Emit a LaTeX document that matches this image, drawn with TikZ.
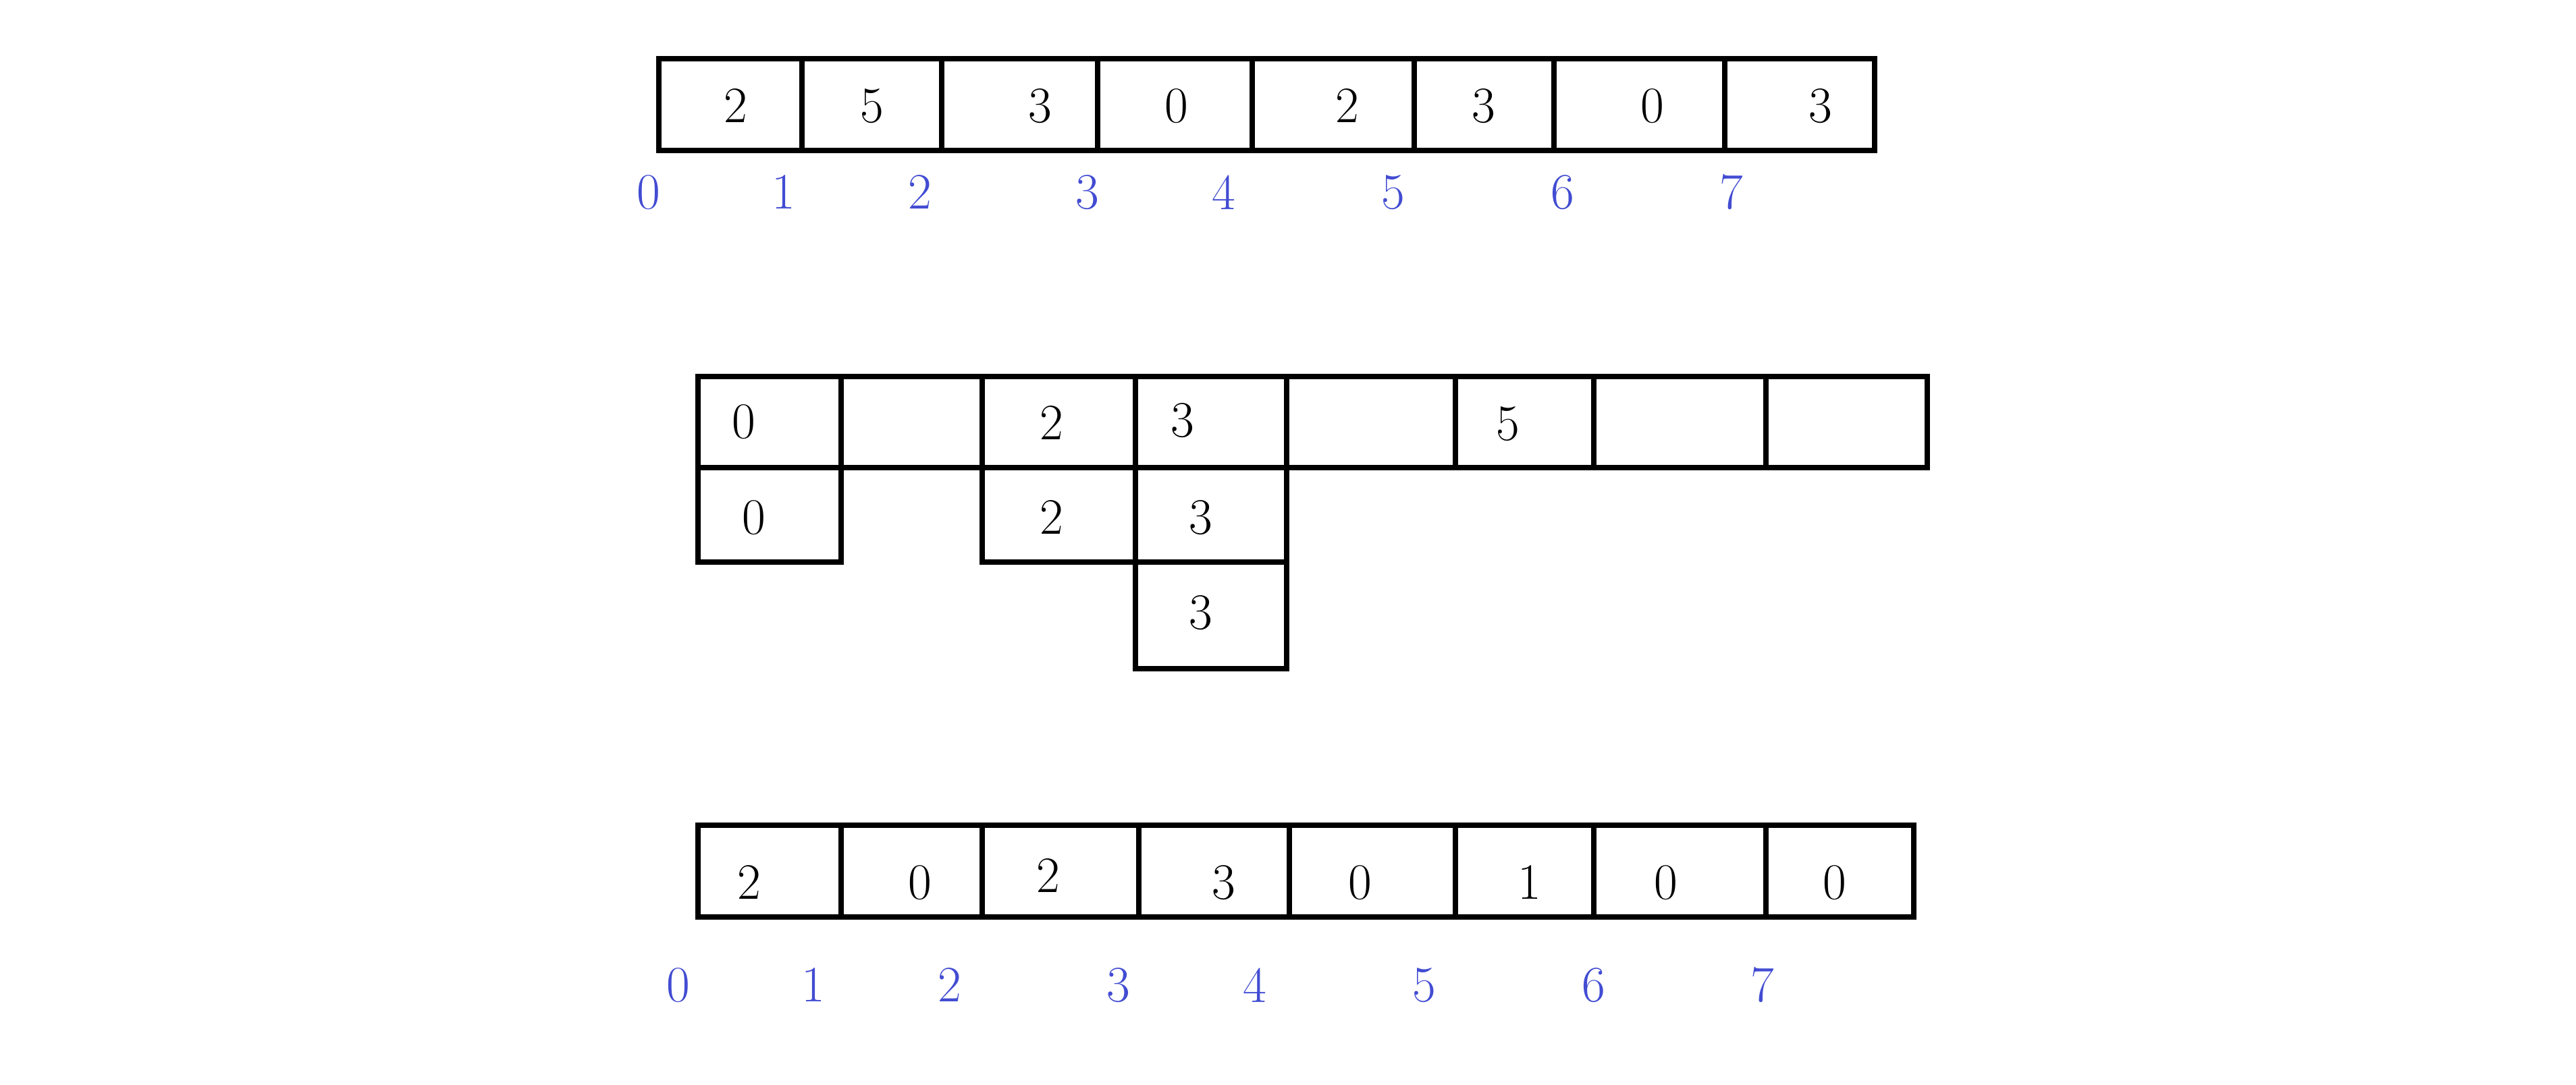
\documentclass[tikz,border=0pt]{standalone}
\usepackage{tikz}
\usetikzlibrary{positioning}
\definecolor{idxblue}{RGB}{66,76,210}

\begin{document}
\begin{tikzpicture}[x=1cm,y=-1cm]
	\tikzstyle{Cell} = [ %one box of an array
		rectangle,
		draw=black,
		line width=2.2pt,
		anchor=north west,
		inner sep=0pt,
		outer sep=0pt
	]
	\tikzstyle{Num} = [
		text=black,
		inner sep=0pt,
		font=\fontsize{21.5}{25}\selectfont
	]
	\tikzstyle{Idx} = [
		Num,
		text=idxblue
	]
	\useasboundingbox (0,0) rectangle (38.16,16.08);

	% input array
	\node (a0) [Cell, minimum width=2.12cm, minimum height=1.36cm] at (9.76,0.87) {};
	\node (a1) [Cell, minimum width=2.07cm, minimum height=1.36cm] at (11.88,0.87) {};
	\node (a2) [Cell, minimum width=2.31cm, minimum height=1.36cm] at (13.95,0.87) {};
	\node (a3) [Cell, minimum width=2.29cm, minimum height=1.36cm] at (16.26,0.87) {};
	\node (a4) [Cell, minimum width=2.40cm, minimum height=1.36cm] at (18.55,0.87) {};
	\node (a5) [Cell, minimum width=2.07cm, minimum height=1.36cm] at (20.95,0.87) {};
	\node (a6) [Cell, minimum width=2.53cm, minimum height=1.36cm] at (23.02,0.87) {};
	\node (a7) [Cell, minimum width=2.22cm, minimum height=1.36cm] at (25.55,0.87) {};
	\node (an0) [Num] at (10.90,1.57) {2};
	\node (an1) [Num] at (12.92,1.57) {5};
	\node (an2) [Num] at (15.41,1.57) {3};
	\node (an3) [Num] at (17.43,1.57) {0};
	\node (an4) [Num] at (19.96,1.57) {2};
	\node (an5) [Num] at (21.98,1.57) {3};
	\node (an6) [Num] at (24.48,1.57) {0};
	\node (an7) [Num] at (26.97,1.57) {3};
	\node (ai0) [Idx] at (9.61,2.85) {0};
	\node (ai1) [Idx] at (11.61,2.85) {1};
	\node (ai2) [Idx] at (13.63,2.85) {2};
	\node (ai3) [Idx] at (16.11,2.85) {3};
	\node (ai4) [Idx] at (18.13,2.85) {4};
	\node (ai5) [Idx] at (20.64,2.85) {5};
	\node (ai6) [Idx] at (23.15,2.85) {6};
	\node (ai7) [Idx] at (25.65,2.85) {7};

	% buckets
	\node (b0) [Cell, minimum width=2.12cm, minimum height=1.35cm] at (10.34,5.58) {};
	\node (b1) [Cell, minimum width=2.09cm, minimum height=1.35cm] at (12.46,5.58) {};
	\node (b2) [Cell, minimum width=2.27cm, minimum height=1.35cm] at (14.55,5.58) {};
	\node (b3) [Cell, minimum width=2.24cm, minimum height=1.35cm] at (16.82,5.58) {};
	\node (b4) [Cell, minimum width=2.50cm, minimum height=1.35cm] at (19.06,5.58) {};
	\node (b5) [Cell, minimum width=2.05cm, minimum height=1.35cm] at (21.56,5.58) {};
	\node (b6) [Cell, minimum width=2.55cm, minimum height=1.35cm] at (23.61,5.58) {};
	\node (b7) [Cell, minimum width=2.39cm, minimum height=1.35cm] at (26.16,5.58) {};
	\node (b0b) [Cell, minimum width=2.12cm, minimum height=1.40cm] at (10.34,6.93) {};
	\node (b2b) [Cell, minimum width=2.27cm, minimum height=1.40cm] at (14.55,6.93) {};
	\node (b3b) [Cell, minimum width=2.24cm, minimum height=1.40cm] at (16.82,6.93) {};
	\node (b3c) [Cell, minimum width=2.24cm, minimum height=1.58cm] at (16.82,8.33) {};
	\node (bn0) [Num] at (11.02,6.25) {0};
	\node (bn2) [Num] at (15.58,6.27) {2};
	\node (bn3) [Num] at (17.52,6.23) {3};
	\node (bn5) [Num] at (22.34,6.28) {5};
	\node (bn0b) [Num] at (11.17,7.67) {0};
	\node (bn2b) [Num] at (15.58,7.67) {2};
	\node (bn3b) [Num] at (17.79,7.67) {3};
	\node (bn3c) [Num] at (17.79,9.08) {3};

	% counts
	\node (c0) [Cell, minimum width=2.12cm, minimum height=1.36cm] at (10.34,12.23) {};
	\node (c1) [Cell, minimum width=2.09cm, minimum height=1.36cm] at (12.46,12.23) {};
	\node (c2) [Cell, minimum width=2.32cm, minimum height=1.36cm] at (14.55,12.23) {};
	\node (c3) [Cell, minimum width=2.23cm, minimum height=1.36cm] at (16.87,12.23) {};
	\node (c4) [Cell, minimum width=2.46cm, minimum height=1.36cm] at (19.10,12.23) {};
	\node (c5) [Cell, minimum width=2.05cm, minimum height=1.36cm] at (21.56,12.23) {};
	\node (c6) [Cell, minimum width=2.55cm, minimum height=1.36cm] at (23.61,12.23) {};
	\node (c7) [Cell, minimum width=2.19cm, minimum height=1.36cm] at (26.16,12.23) {};
	\node (cn0) [Num] at (11.10,13.08) {2};
	\node (cn1) [Num] at (13.63,13.08) {0};
	\node (cn2) [Num] at (15.53,12.98) {2};
	\node (cn3) [Num] at (18.13,13.08) {3};
	\node (cn4) [Num] at (20.15,13.08) {0};
	\node (cn5) [Num] at (22.66,13.08) {1};
	\node (cn6) [Num] at (24.68,13.08) {0};
	\node (cn7) [Num] at (27.18,13.08) {0};
	\node (ci0) [Idx] at (10.05,14.60) {0};
	\node (ci1) [Idx] at (12.05,14.60) {1};
	\node (ci2) [Idx] at (14.07,14.60) {2};
	\node (ci3) [Idx] at (16.57,14.60) {3};
	\node (ci4) [Idx] at (18.59,14.60) {4};
	\node (ci5) [Idx] at (21.10,14.60) {5};
	\node (ci6) [Idx] at (23.61,14.60) {6};
	\node (ci7) [Idx] at (26.11,14.60) {7};
\end{tikzpicture}
\end{document}
